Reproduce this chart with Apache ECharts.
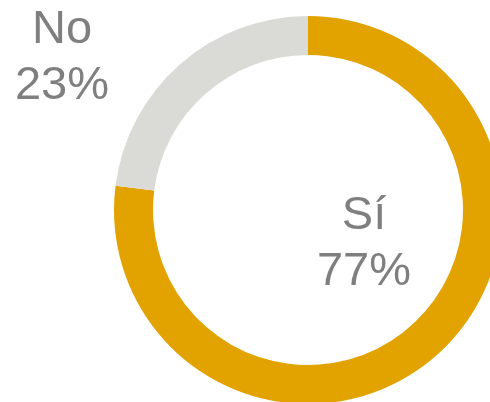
<!DOCTYPE html>
<html>
<head>
<meta charset="utf-8">
<script src="https://cdn.jsdelivr.net/npm/echarts@6/dist/echarts.min.js"></script>
<style>html,body{margin:0;padding:0;background:#fff;}#c{width:490px;height:402px;}</style>
</head>
<body>
<div id="c"></div>
<script>
const categories = ['Sí', 'No'];
const values = [77, 23];
const colors = ['#E2A200', '#DADBD6'];
const labelSpots = [[364, 244], [62, 58]];

const chart = echarts.init(document.getElementById('c'), null, {renderer: 'canvas'});
chart.setOption({
  animation: false,
  series: [{
    type: 'pie',
    center: [308, 210],
    radius: [155, 194],
    startAngle: 90,
    clockwise: true,
    percentPrecision: 0,
    avoidLabelOverlap: false,
    data: categories.map((c, i) => ({name: c, value: values[i], itemStyle: {color: colors[i]}})),
    label: {
      show: true,
      formatter: '{b}\n{d}%',
      fontFamily: 'Liberation Sans, Arial, sans-serif',
      fontSize: 47,
      lineHeight: 56,
      color: '#7F7F7F',
      align: 'center'
    },
    labelLine: {show: false},
    labelLayout: function (p) {
      const s = labelSpots[p.dataIndex];
      return {x: s[0], y: s[1], align: 'center', verticalAlign: 'middle'};
    },
    emphasis: {disabled: true}
  }]
});
</script>
</body>
</html>
